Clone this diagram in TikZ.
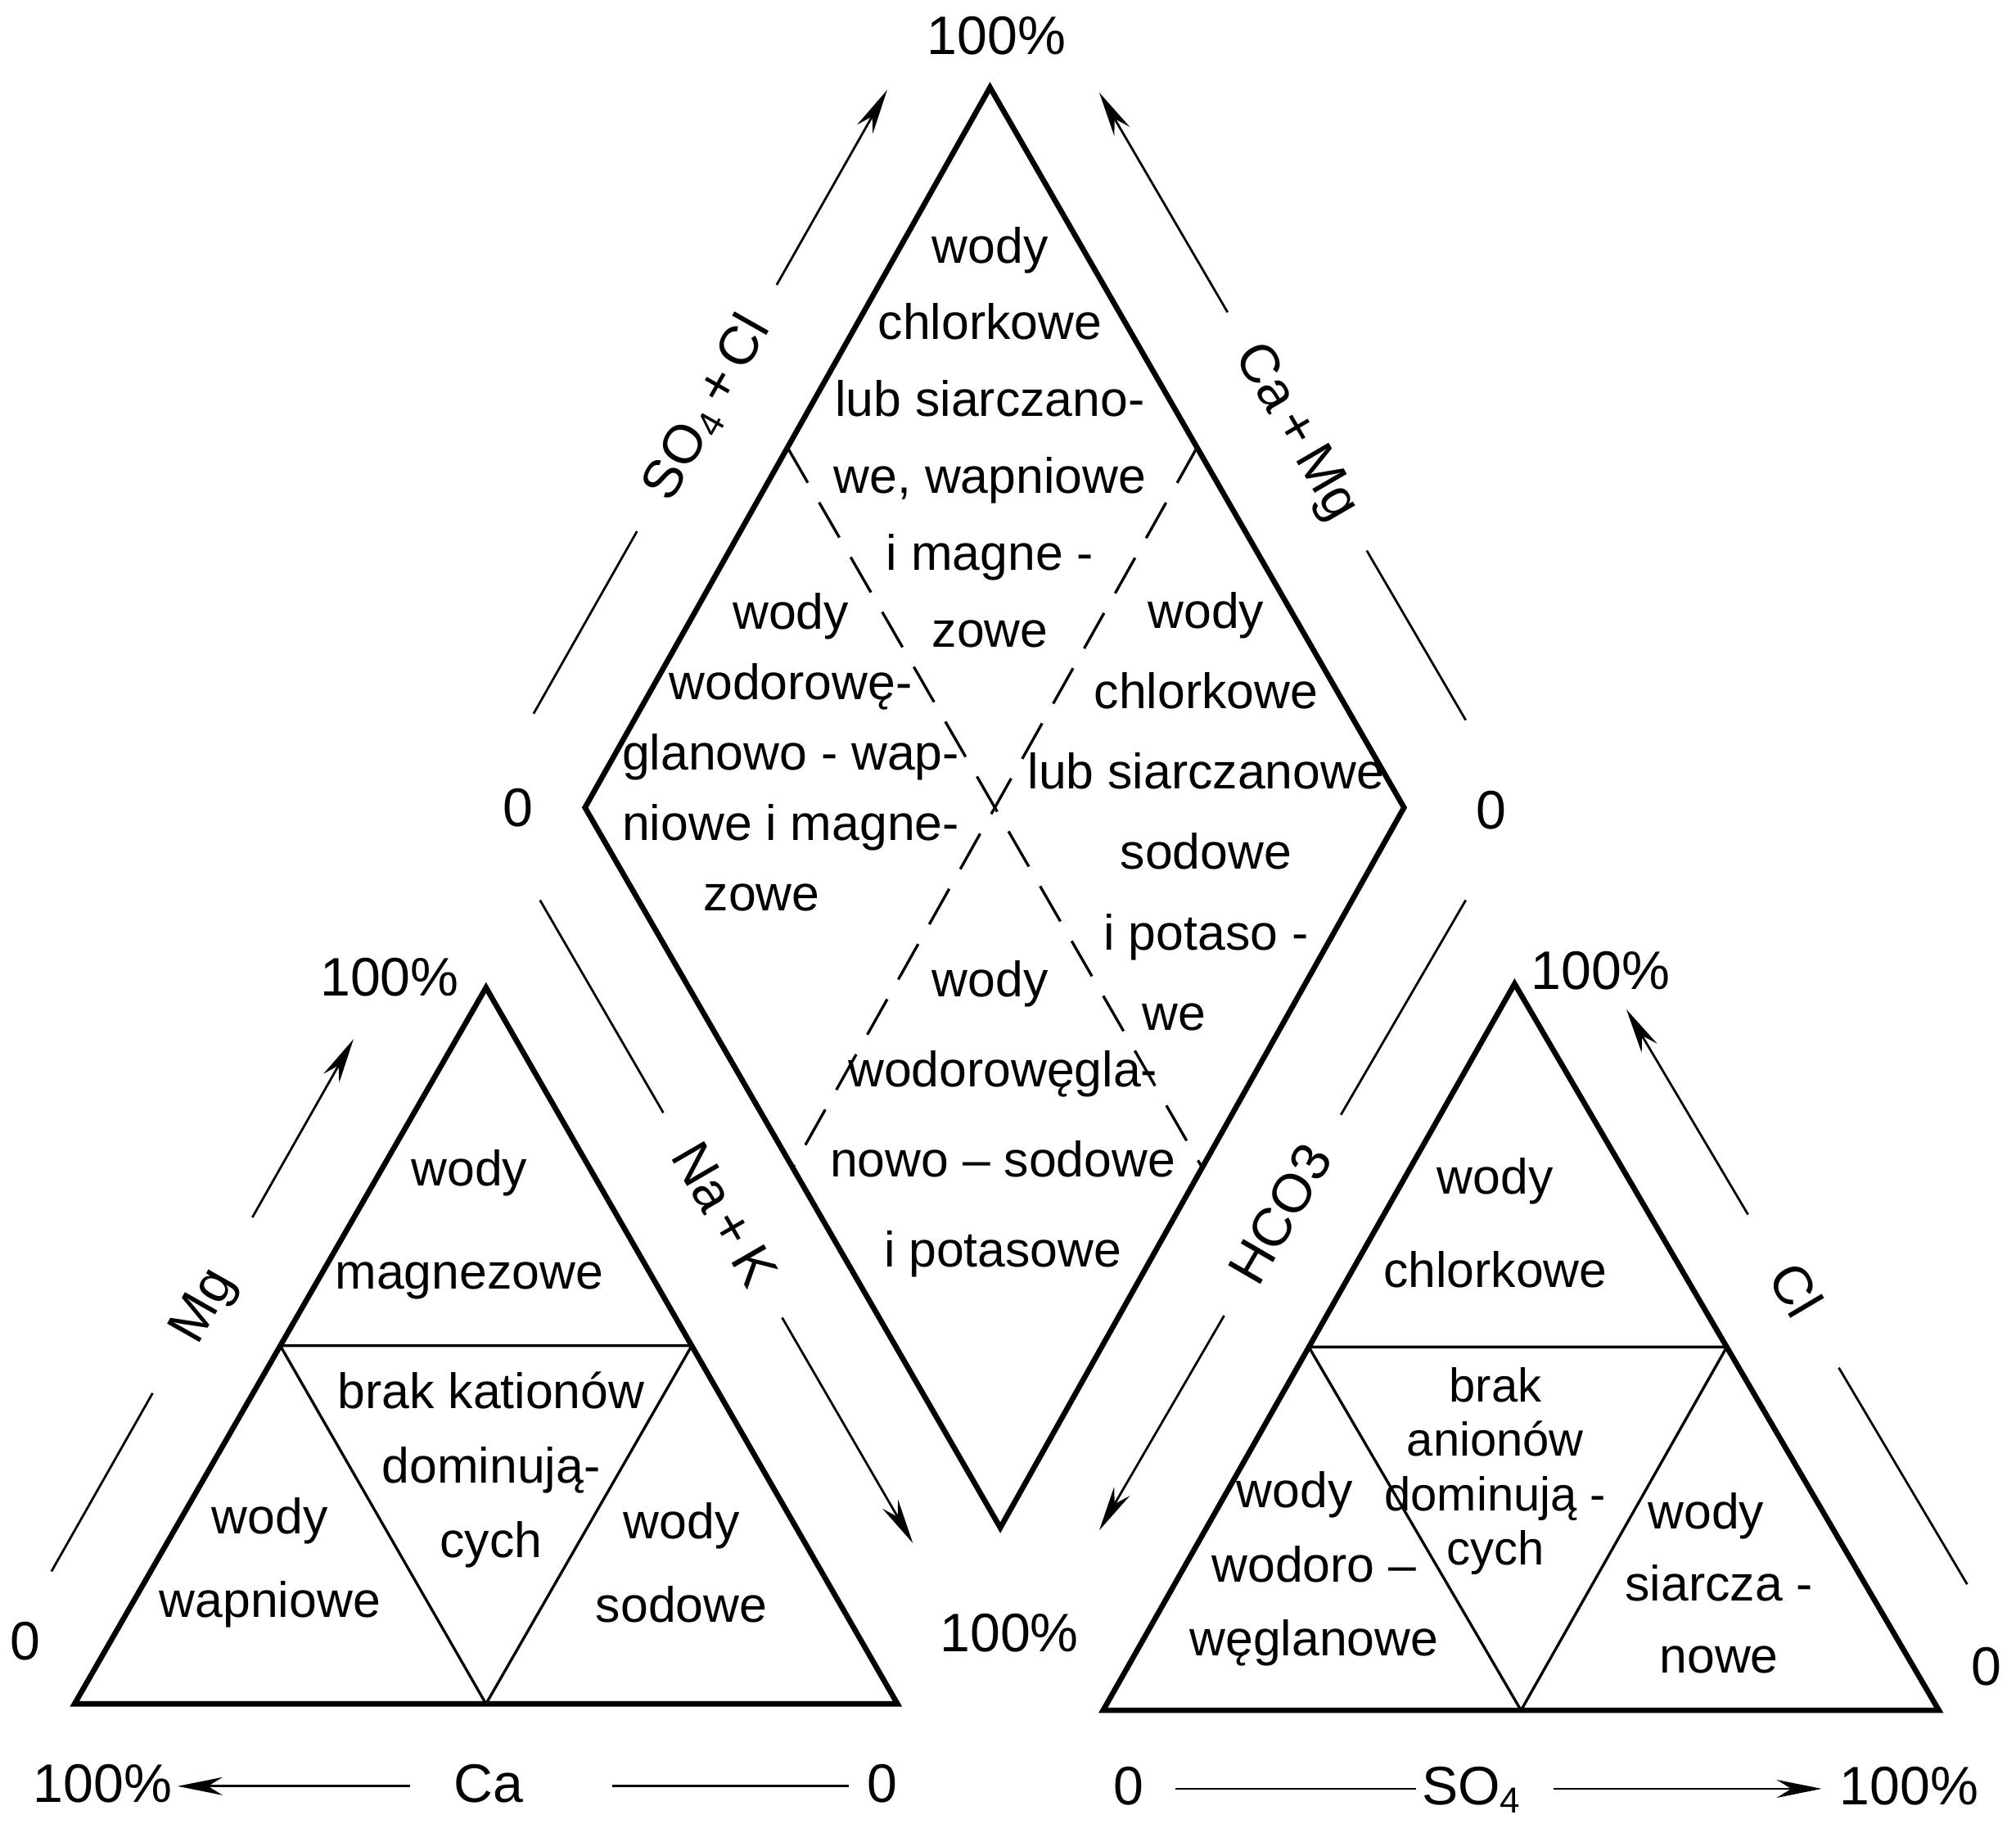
\documentclass[tikz,border=0pt]{standalone}
\usepackage{fontspec}
\setmainfont{Liberation Sans}
\usetikzlibrary{positioning,arrows.meta,calc}

\begin{document}
\begin{tikzpicture}[
    zone/.style={align=center, inner sep=0pt, font=\fontsize{11}{17}\selectfont},
    tick/.style={inner sep=1pt, text height=1.6ex, text depth=.25ex, font=\fontsize{12}{14}\selectfont},
    outline/.style={line width=1.2pt, line join=miter},
    divide/.style={line width=0.6pt},
    dashdiv/.style={line width=0.6pt, dash pattern=on 9pt off 5pt},
    axis/.style={line width=0.5pt, -{Stealth[length=3.5mm,width=1.4mm]}},
    axlabel/.style={sloped, fill=white, inner xsep=9pt, inner ysep=1pt, text height=1.6ex, text depth=.25ex, font=\fontsize{12}{14}\selectfont},
  ]
    \useasboundingbox (0,0) rectangle (15.68,14.18);

    % diamond
    \coordinate (dT) at (7.70,13.50);
    \coordinate (dL) at (4.55,7.90);
    \coordinate (dR) at (10.92,7.90);
    \coordinate (dB) at (7.78,2.30);
    \coordinate (dTL) at ($(dT)!.5!(dL)$);
    \coordinate (dTR) at ($(dT)!.5!(dR)$);
    \coordinate (dBL) at ($(dB)!.5!(dL)$);
    \coordinate (dBR) at ($(dB)!.5!(dR)$);
    \draw[dashdiv] (dTL) -- (dBR);
    \draw[dashdiv] (dTR) -- (dBL);
    \draw[outline] (dT) -- (dR) -- (dB) -- (dL) -- cycle;

    % cation triangle
    \coordinate (lA) at (0.58,0.93);
    \coordinate (lB) at (6.98,0.93);
    \coordinate (lC) at (3.78,6.50);
    \coordinate (lAC) at ($(lA)!.5!(lC)$);
    \coordinate (lBC) at ($(lB)!.5!(lC)$);
    \coordinate (lAB) at ($(lA)!.5!(lB)$);
    \draw[divide] (lAC) -- (lBC) -- (lAB) -- cycle;
    \draw[outline] (lA) -- (lB) -- (lC) -- cycle;

    % anion triangle
    \coordinate (rA) at (8.58,0.88);
    \coordinate (rB) at (15.08,0.88);
    \coordinate (rC) at (11.78,6.53);
    \coordinate (rAC) at ($(rA)!.5!(rC)$);
    \coordinate (rBC) at ($(rB)!.5!(rC)$);
    \coordinate (rAB) at ($(rA)!.5!(rB)$);
    \draw[divide] (rAC) -- (rBC) -- (rAB) -- cycle;
    \draw[outline] (rA) -- (rB) -- (rC) -- cycle;

    % fields of the diamond
    \node[zone] (clCaMg) at (7.70,10.78) {wody\\chlorkowe\\lub siarczano-\\we, wapniowe\\i magne -\\zowe};
    \node[zone, font=\fontsize{11}{15.6}\selectfont] (hcCaMg) at (6.15,8.33) {wody\\wodorowę-\\glanowo - wap-\\niowe i magne-\\zowe\hspace*{4.5mm}};
    \node[zone, font=\fontsize{11}{17.8}\selectfont] (clNaK) at (9.38,7.87) {wody\\chlorkowe\\lub siarczanowe\\sodowe\hspace*{6mm}\\i potaso -\\we\hspace*{5mm}};
    \node[zone, font=\fontsize{11}{19.9}\selectfont] (hcNaK) at (7.80,5.48) {wody\hspace*{2mm}\\wodorowęgla-\\nowo – sodowe\\i potasowe};

    % fields of the cation triangle
    \node[zone, font=\fontsize{11}{22.8}\selectfont] (mag) at (3.65,4.66) {wody\\magnezowe};
    \node[zone, font=\fontsize{11}{16.4}\selectfont] (noCat) at (3.82,2.75) {brak kationów\\dominują-\\cych};
    \node[zone, font=\fontsize{11}{18.5}\selectfont] (wap) at (2.10,2.03) {wody\\wapniowe};
    \node[zone, font=\fontsize{11}{18.5}\selectfont] (sod) at (5.30,2.03) {wody\\sodowe};

    % fields of the anion triangle
    \node[zone, font=\fontsize{11}{20.5}\selectfont] (chl) at (11.63,4.67) {wody\\chlorkowe};
    \node[zone, font=\fontsize{10.5}{12}\selectfont] (noAn) at (11.63,2.74) {brak\\anionów\\dominują -\\cych};
    \node[zone, font=\fontsize{11}{16.4}\selectfont] (wegl) at (10.22,1.98) {wody\hspace*{3mm}\\wodoro –\\węglanowe};
    \node[zone, font=\fontsize{11}{16}\selectfont] (siar) at (13.37,1.87) {wody\hspace*{2mm}\\siarcza -\\nowe};

    % scale ends
    \node[tick] (pTop) at (7.75,13.88) {100\%};
    \node[tick] (zDL) at (4.03,7.88) {0};
    \node[tick] (zDR) at (11.60,7.86) {0};
    \node[tick] (pLT) at (3.03,6.56) {100\%};
    \node[tick] (zLL) at (0.20,1.40) {0};
    \node[tick] (pMid) at (7.85,1.46) {100\%};
    \node[tick] (pRT) at (12.45,6.61) {100\%};
    \node[tick] (zRR) at (15.45,1.20) {0};

    % bottom scales
    \node[tick] (pCa) at (0.80,0.29) {100\%};
    \node[tick] (ca) at (3.80,0.29) {Ca};
    \node[tick] (zCa) at (6.86,0.29) {0};
    \node[tick] (zSO) at (8.78,0.27) {0};
    \node[tick] (so) at (11.45,0.27) {SO\textsubscript{4}};
    \node[tick] (pSO) at (14.85,0.27) {100\%};

    \draw[axis, shorten <=3mm] (ca) -- (pCa);
    \draw[line width=0.5pt, shorten <=6.5mm, shorten >=1mm] (ca) -- (zCa);
    \draw[line width=0.5pt, shorten <=2mm] (zSO) -- (so);
    \draw[axis, shorten <=2mm, shorten >=1mm] (so) -- (pSO);

    % side scales
    \coordinate (soA) at (4.15,8.63);
    \coordinate (soB) at (6.90,13.48);
    \coordinate (cmA) at (11.40,8.58);
    \coordinate (cmB) at (8.55,13.46);
    \coordinate (nkA) at (4.20,7.18);
    \coordinate (nkB) at (7.10,2.18);
    \coordinate (hcA) at (11.40,7.18);
    \coordinate (hcB) at (8.55,2.28);
    \coordinate (mgA) at (0.40,1.96);
    \coordinate (mgB) at (2.75,6.10);
    \coordinate (clA) at (15.30,1.86);
    \coordinate (clB) at (12.65,6.33);

    \draw[axis] (soA) -- node[axlabel, pos=.49] (soCl) {SO\textsubscript{4}\,+\,Cl} (soB);
    \draw[axis] (cmA) -- node[axlabel, pos=.46] (caMg) {Ca\,+\,Mg} (cmB);
    \draw[axis] (nkA) -- node[axlabel, pos=.49] (naK) {Na\,+\,K} (nkB);
    \draw[axis] (hcA) -- node[axlabel, pos=.50] (hco) {HCO3} (hcB);
    \draw[axis] (mgA) -- node[axlabel, pos=.50, inner xsep=14pt] (mg) {Mg} (mgB);
    \draw[axis] (clA) -- node[axlabel, pos=.51, inner xsep=14pt] (cl) {Cl} (clB);
  \end{tikzpicture}
\end{document}
